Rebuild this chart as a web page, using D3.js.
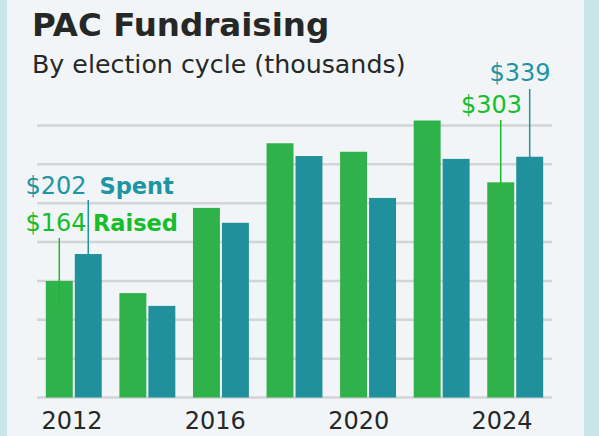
<!DOCTYPE html>
<html><head><meta charset="utf-8">
<script src="https://cdn.jsdelivr.net/npm/d3@7"></script>
<style>html,body{margin:0;padding:0;background:#f1f5f7;} svg{display:block}</style>
</head><body><svg id="c" width="599" height="436"></svg>
<script>
// ---- data ----
const years = [2012, 2014, 2016, 2018, 2020, 2022, 2024];
const raised = [164, 147, 267, 358, 346, 390, 303];
const spent = [202, 129, 246, 340, 281, 336, 339];
const seriesKeys = ["Raised", "Spent"];
const xTickLabels = [2012, 2016, 2020, 2024];
const gridTop = 383;      // value at the top gridline
const gridCount = 7;      // intervals between gridlines

const title = "PAC Fundraising";
const subtitle = "By election cycle (thousands)";

// ---- styles ----
const W = 599, H = 436;
const FONT = "'DejaVu Sans', 'Noto Sans', sans-serif";
const C = {bg:"#f1f5f7", border:"#c8e6e9", green:"#2fb24a", teal:"#1f909c",
           greenText:"#17bd2c", tealText:"#1e95a2", grid:"#d2d4d6", ink:"#262828"};

const svg = d3.select("#c");
svg.append("rect").attr("width", W).attr("height", H).attr("fill", C.bg);
svg.append("rect").attr("x", 0).attr("y", 0).attr("width", 7).attr("height", H).attr("fill", C.border);
svg.append("rect").attr("x", 584).attr("y", 0).attr("width", W - 584).attr("height", H).attr("fill", C.border);

const plot = {left: 37, right: 552, top: 125.5, bottom: 397.5};

const x0 = d3.scaleBand().domain(years).range([plot.left, plot.right])
  .paddingInner(0.24).paddingOuter(0.12);
const x1 = d3.scaleBand().domain(seriesKeys).range([0, x0.bandwidth()]).paddingInner(0.07);
const y = d3.scaleLinear().domain([0, gridTop]).range([plot.bottom, plot.top]);
const xLab = d3.scaleLinear().domain([xTickLabels[0], xTickLabels[xTickLabels.length - 1]]).range([71.5, 501.5]);

// gridlines
const gridVals = d3.range(gridCount + 1).map(i => gridTop * i / gridCount);
svg.append("g").selectAll("line").data(gridVals).join("line")
  .attr("x1", plot.left).attr("x2", plot.right)
  .attr("y1", d => y(d)).attr("y2", d => y(d))
  .attr("stroke", C.grid).attr("stroke-width", 2.5);

// bars
const rows = years.map((yr, i) => ({year: yr, Raised: raised[i], Spent: spent[i]}));
const colorOf = {Raised: C.green, Spent: C.teal};
const g = svg.append("g").selectAll("g").data(rows).join("g")
  .attr("transform", d => `translate(${x0(d.year)},0)`);
g.selectAll("rect").data(d => seriesKeys.map(k => ({key: k, value: d[k]}))).join("rect")
  .attr("x", d => x1(d.key)).attr("width", x1.bandwidth())
  .attr("y", d => y(d.value)).attr("height", d => y(0) - y(d.value))
  .attr("fill", d => colorOf[d.key]);

// x axis labels
const ax = svg.append("g").attr("transform", `translate(0,${429})`)
  .call(d3.axisBottom(xLab).tickValues(xTickLabels).tickFormat(d3.format("d")).tickSize(0).tickPadding(0));
ax.select(".domain").remove();
ax.selectAll("text").attr("font-family", FONT).attr("font-size", 24).attr("fill", C.ink)
  .attr("dy", 0).attr("y", 0);

// title
svg.append("text").attr("x", 32).attr("y", 36).text(title)
  .attr("font-family", FONT).attr("font-weight", 700).attr("font-size", 32.5).attr("fill", C.ink);
svg.append("text").attr("x", 32).attr("y", 72.7).text(subtitle)
  .attr("font-family", FONT).attr("font-size", 25.3).attr("fill", C.ink);

// annotations
const fmt = v => "$" + v;
const cx = (i, k) => x0(years[i]) + x1(k) + x1.bandwidth() / 2;
const first = 0, last = years.length - 1;
const ann = [
  {i: first, key: "Raised", val: raised[first], label: "Raised", lx: 93, anchor: "start", tx: 25.5, ty: 231, ly1: 238, dy: 25, col: C.greenText},
  {i: first, key: "Spent", val: spent[first], label: "Spent", lx: 99.5, anchor: "start", tx: 25.5, ty: 194, ly1: 200, dy: 7, col: C.tealText},
  {i: last, key: "Raised", val: raised[last], label: null, anchor: "end", tx: 522, ty: 113, ly1: 120, dy: 4, col: C.greenText},
  {i: last, key: "Spent", val: spent[last], label: null, anchor: "end", tx: 550.5, ty: 81, ly1: 89, dy: 15, col: C.tealText}
];
ann.forEach(a => {
  const lx = cx(a.i, a.key);
  svg.append("line").attr("x1", lx).attr("x2", lx).attr("y1", a.ly1).attr("y2", y(a.val) + a.dy)
    .attr("stroke", a.col).attr("stroke-width", 1.5);
  const t = svg.append("text").attr("x", a.tx).attr("y", a.ty).attr("text-anchor", a.anchor)
    .attr("font-family", FONT).attr("font-size", 24).attr("fill", a.col);
  t.append("tspan").text(fmt(a.val));
  if (a.label) t.append("tspan").attr("x", a.lx).attr("font-weight", 700).attr("font-size", 22.5).text(a.label);
});
</script></body></html>
